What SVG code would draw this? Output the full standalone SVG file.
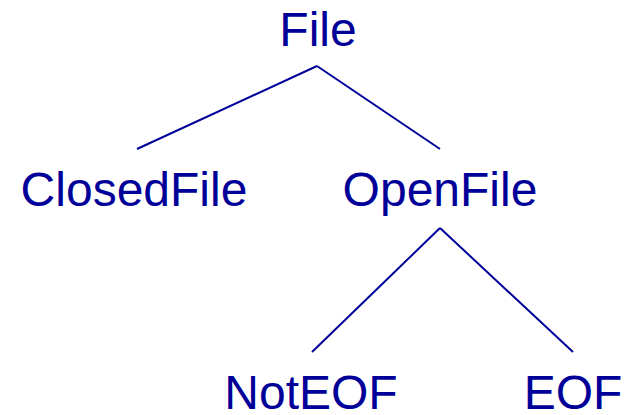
<svg xmlns="http://www.w3.org/2000/svg" width="630" height="415" viewBox="0 0 630 415">
<style>
text{font-family:"Liberation Sans",Arial,sans-serif;font-size:48px;fill:#000099;text-anchor:middle}
line{stroke:#000099;stroke-width:2}
</style>
<rect width="630" height="415" fill="#fff"/>
<g id="connectors">
<line x1="317" y1="66" x2="137" y2="149"/>
<line x1="317" y1="66" x2="440" y2="149"/>
<line x1="440" y1="228" x2="312" y2="352"/>
<line x1="440" y1="228" x2="573" y2="352"/>
</g>
<g id="File"><text x="318" y="46">File</text></g>
<g id="ClosedFile"><text x="134" y="206">ClosedFile</text></g>
<g id="OpenFile"><text x="440" y="206">OpenFile</text></g>
<g id="NotEOF"><text x="311" y="409">NotEOF</text></g>
<g id="EOF"><text x="573" y="409">EOF</text></g>
</svg>
